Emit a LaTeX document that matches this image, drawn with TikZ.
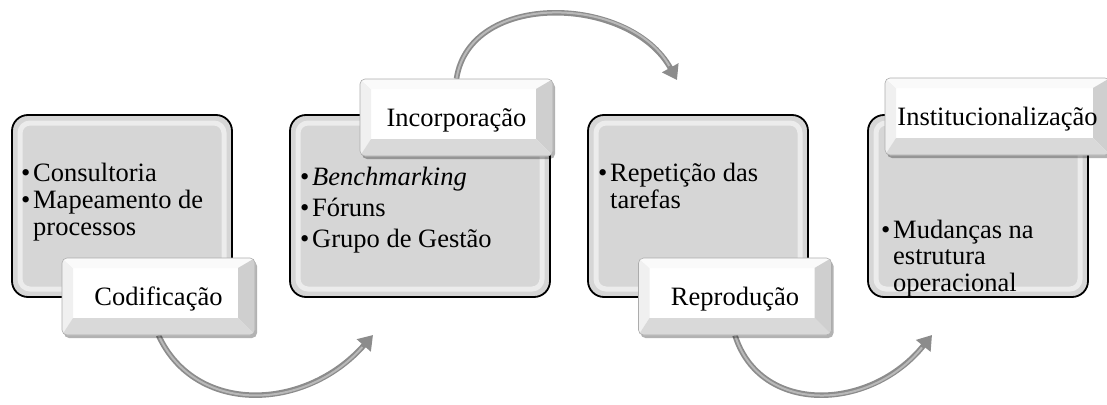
\documentclass[tikz,border=0pt]{standalone}
\usepackage{fontspec}
\setmainfont{Liberation Serif}
\usetikzlibrary{arrows.meta,shadows}
\definecolor{boxgray}{RGB}{214,214,214}
\definecolor{arrgray}{RGB}{140,140,140}
\definecolor{arrlight}{RGB}{185,185,185}
\newcommand{\bul}{\makebox[12pt][l]{•}}
\newcommand{\hng}{\hspace*{12pt}}
\newcommand{\tops}{\rule{0pt}{20pt}}
\newcommand{\fsz}[1]{\fontsize{26.5}{#1}\selectfont}
\pgfdeclarelayer{bglayer}
\pgfdeclarelayer{midlayer}
\pgfsetlayers{bglayer,midlayer,main}
\begin{document}
\begin{tikzpicture}[x=1pt,y=-1pt,
  bigbox/.style={draw=black, line width=1.8pt, fill=boxgray, rounded corners=16pt, inner sep=0pt,
    minimum height=182pt,
    path picture={\draw[white, opacity=0.55, line width=5pt, rounded corners=10pt]
      ([shift={(8pt,-8pt)}]path picture bounding box.north west) rectangle
      ([shift={(-8pt,8pt)}]path picture bounding box.south east);}},
  tag/.style={draw=gray!65, line width=0.6pt, fill=white, rounded corners=5pt,
    minimum height=77pt, minimum width=193pt, inner sep=0pt,
    font=\fsz{30}, text height=17pt, text depth=0pt,
    drop shadow={shadow xshift=2pt, shadow yshift=-3pt, opacity=0.3, fill=black},
    path picture={
      \fill[gray!12, sharp corners] (path picture bounding box.north west) -- (path picture bounding box.south west)
        -- ([shift={(11pt,17pt)}]path picture bounding box.south west) -- ([shift={(11pt,-10pt)}]path picture bounding box.north west) -- cycle;
      \fill[gray!4, sharp corners] (path picture bounding box.north west) -- (path picture bounding box.north east)
        -- ([shift={(-17pt,-10pt)}]path picture bounding box.north east) -- ([shift={(11pt,-10pt)}]path picture bounding box.north west) -- cycle;
      \fill[gray!38, sharp corners] (path picture bounding box.north east) -- (path picture bounding box.south east)
        -- ([shift={(-17pt,17pt)}]path picture bounding box.south east) -- ([shift={(-17pt,-10pt)}]path picture bounding box.north east) -- cycle;
      \fill[gray!30, sharp corners] (path picture bounding box.south west) -- (path picture bounding box.south east)
        -- ([shift={(-17pt,17pt)}]path picture bounding box.south east) -- ([shift={(11pt,17pt)}]path picture bounding box.south west) -- cycle;
    }},
  items/.style={anchor=north west, inner sep=0pt, align=left},
  arr/.style={line width=5.5pt, draw=arrgray, -{Triangle[length=14pt,width=18pt]}},
  arrin/.style={line width=2pt, draw=arrlight, shorten >=16pt}
]
\useasboundingbox (0,0) rectangle (1107,404);

% labels (top layer)
\node[tag] (l1) at (158.5,296.5) {Codificação};
\node[tag] (l2) at (456.5,117.5) {Incorporação};
\node[tag] (l3) at (735,296.5) {Reprodução};
\node[tag, minimum width=225pt] (l4) at (997.5,116.5) {Institucionalização};

% big boxes and texts
\begin{pgfonlayer}{bglayer}
\node[bigbox, minimum width=220pt] (b1) at (122,206) {};
\node[bigbox, minimum width=260pt] (b2) at (420,206) {};
\node[bigbox, minimum width=220pt] (b3) at (698,206) {};
\node[bigbox, minimum width=220pt] (b4) at (978,206) {};
\node[items, font=\fsz{27}] (c1) at (21,161) {\tops\bul Consultoria\\\bul Mapeamento de\\\hng processos};
\node[items, font=\fsz{31}] (c2) at (300,165) {\tops\bul\textit{Benchmarking}\\\bul Fóruns\\\bul Grupo de Gestão};
\node[items, font=\fsz{27}] (c3) at (598,161) {\tops\bul Repetição das\\\hng tarefas};
\node[items, font=\fsz{26.5}] (c4) at (881,218) {\tops\bul Mudanças na\\\hng estrutura\\\hng operacional};
\end{pgfonlayer}

% arrows
\coordinate (t1) at (373,335);
\coordinate (t2) at (677,80);
\coordinate (t3) at (932,335);
\begin{pgfonlayer}{midlayer}
\draw[arr] (l1.south) .. controls (195,415) and (305,412) .. (t1);
\draw[arrin] (l1.south) .. controls (195,415) and (305,412) .. (t1);
\draw[arr] (l2.north) .. controls (470,-10) and (630,-5) .. (t2);
\draw[arrin] (l2.north) .. controls (470,-10) and (630,-5) .. (t2);
\draw[arr] (l3.south) .. controls (760,415) and (870,412) .. (t3);
\draw[arrin] (l3.south) .. controls (760,415) and (870,412) .. (t3);
\end{pgfonlayer}
\end{tikzpicture}
\end{document}
